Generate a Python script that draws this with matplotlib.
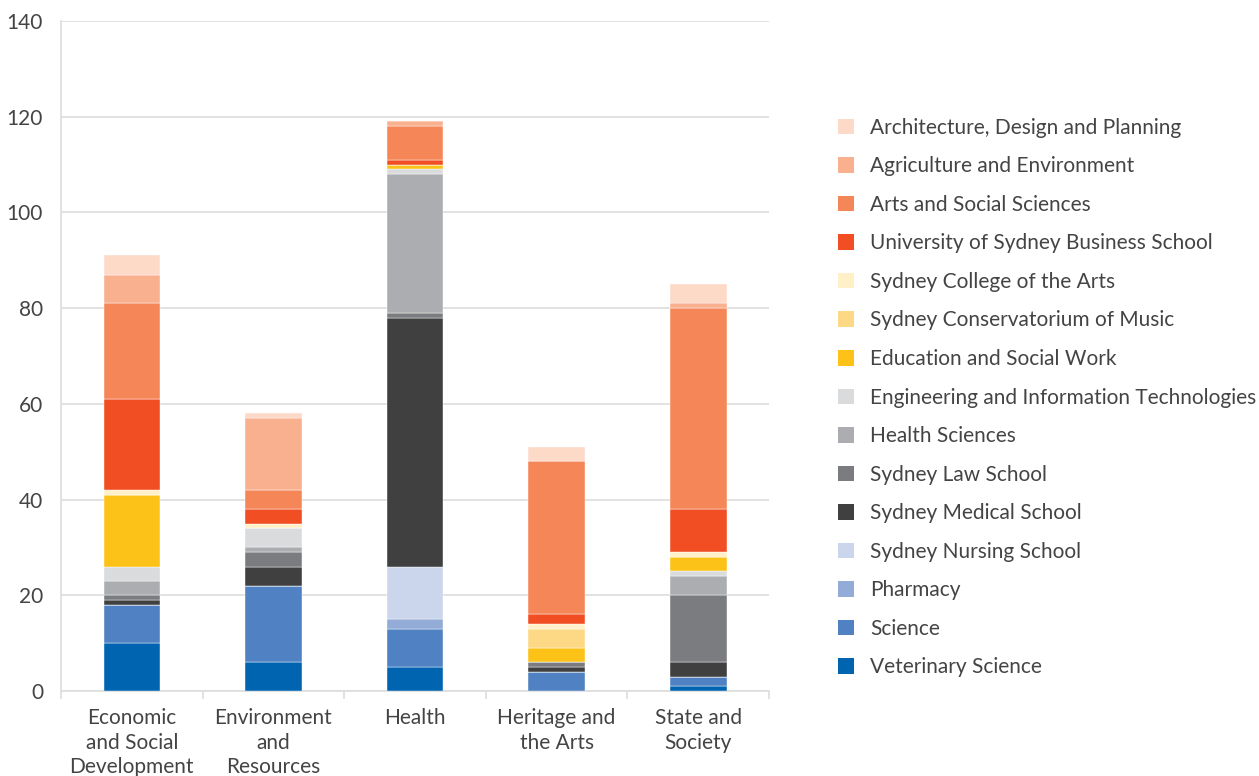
import matplotlib
matplotlib.use("Agg")
import matplotlib.pyplot as plt
from matplotlib.patches import Patch
import numpy as np

categories = ["Economic\nand Social\nDevelopment", "Environment\nand\nResources", "Health",
              "Heritage and\nthe Arts", "State and\nSociety"]

# stacking order bottom -> top
faculties = [
    "Veterinary Science", "Science", "Pharmacy", "Sydney Nursing School",
    "Sydney Medical School", "Sydney Law School", "Health Sciences",
    "Engineering and Information Technologies", "Education and Social Work",
    "Sydney Conservatorium of Music", "Sydney College of the Arts",
    "University of Sydney Business School", "Arts and Social Sciences",
    "Agriculture and Environment", "Architecture, Design and Planning",
]

veterinary = [10, 6, 5, 0, 1]
science = [8, 16, 8, 4, 2]
pharmacy = [0, 0, 2, 0, 0]
nursing = [0, 0, 11, 0, 0]
medical = [1, 4, 52, 1, 3]
law = [1, 3, 1, 1, 14]
health_sciences = [3, 1, 29, 0, 4]
engineering = [3, 4, 1, 0, 1]
education = [15, 0, 1, 3, 3]
conservatorium = [0, 0, 0, 4, 0]
college_arts = [1, 1, 0, 1, 1]
business = [19, 3, 1, 2, 9]
arts_social = [20, 4, 7, 32, 42]
agriculture = [6, 15, 1, 0, 1]
architecture = [4, 1, 0, 3, 4]

series = [veterinary, science, pharmacy, nursing, medical, law, health_sciences,
          engineering, education, conservatorium, college_arts, business,
          arts_social, agriculture, architecture]

colors = ["#0064b1", "#5081c2", "#93abd7", "#cbd6ec", "#404040", "#7b7c7f",
          "#acadb0", "#dadbdc", "#fdc217", "#fdd985", "#fff0c8", "#f14f23",
          "#f58658", "#f9b08f", "#fdd9c8"]

plt.rcParams['font.family'] = ['Lato', 'DejaVu Sans']
text_color = "#444444"
fs = 15

fig = plt.figure(figsize=(12.59, 7.76), dpi=100)
ax = fig.add_axes([0.0485, 0.1095, 0.5623, 0.8635])

x = np.arange(len(categories))
bottom = np.zeros(len(categories))
for vals, col in zip(series, colors):
    v = np.array(vals, dtype=float)
    ax.bar(x, v, width=0.4, bottom=bottom, color=col, edgecolor="white",
           linewidth=0.3, zorder=3)
    bottom += v

ax.set_xlim(-0.5, 4.5)
ax.set_ylim(0, 140)
ax.set_yticks(np.arange(0, 141, 20))
ax.yaxis.grid(True, color="#dddddd", linewidth=1.2, zorder=0)
ax.tick_params(axis="y", length=0, pad=13, labelsize=fs, labelcolor=text_color)

ax.set_xticks(x)
ax.set_xticklabels(categories, linespacing=1.28)
ax.set_xticks(np.arange(-0.5, 5, 1), minor=True)
ax.tick_params(axis="x", which="major", length=0, pad=12.5, labelsize=fs,
               labelcolor=text_color)
ax.tick_params(axis="x", which="minor", length=6, color="#dddddd", width=1.2)

for s in ["top", "right"]:
    ax.spines[s].set_visible(False)
ax.spines["left"].set_color("#dddddd")
ax.spines["left"].set_linewidth(1.2)
ax.spines["bottom"].set_color("#dddddd")
ax.spines["bottom"].set_linewidth(1.2)

handles = [Patch(facecolor=c, edgecolor="none", label=l)
           for l, c in zip(faculties[::-1], colors[::-1])]
leg = fig.legend(handles=handles, loc="upper left", bbox_to_anchor=(0.659, 0.859),
                 frameon=False, fontsize=fs, handlelength=0.77, handleheight=0.77,
                 handletextpad=0.77, labelspacing=0.89, borderaxespad=0)
for t in leg.get_texts():
    t.set_color(text_color)

fig.savefig("out.png", dpi=100)
